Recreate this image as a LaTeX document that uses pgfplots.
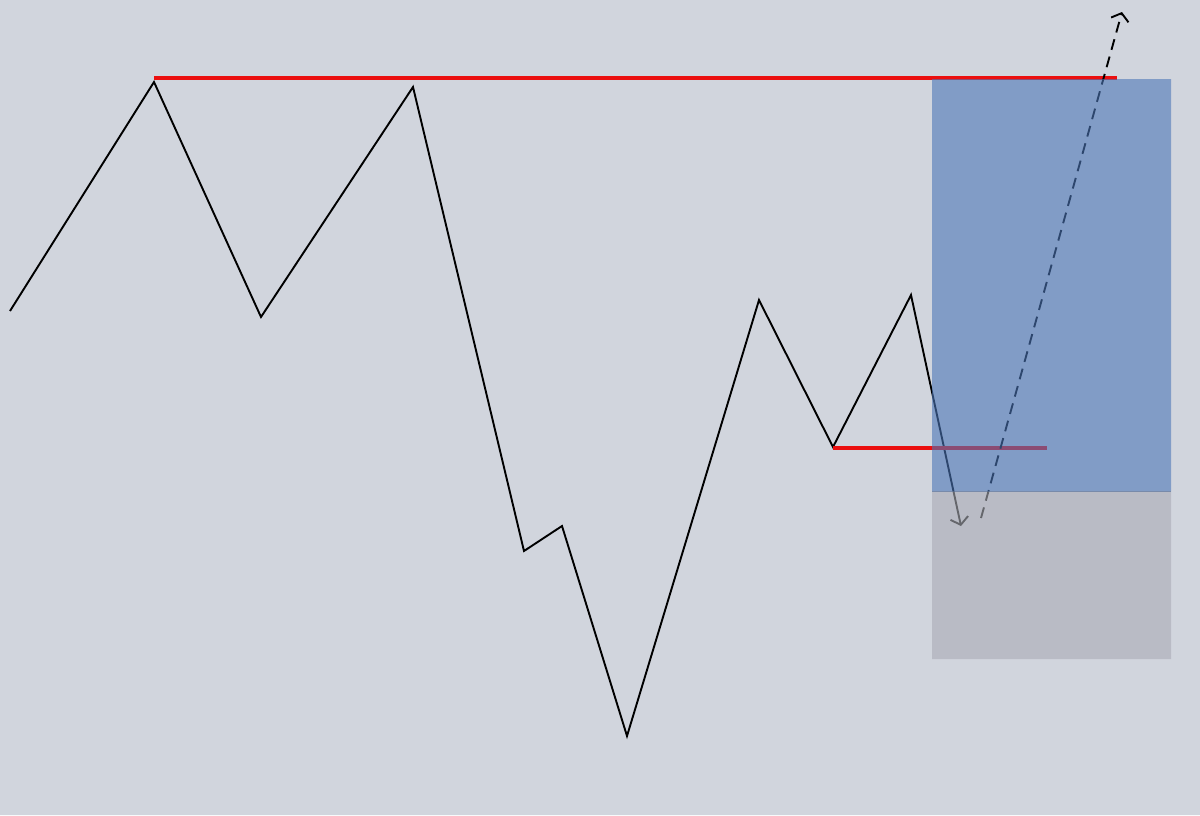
\documentclass[border=0pt]{standalone}
\usepackage{pgfplots}
\pgfplotsset{compat=1.18}
\usetikzlibrary{arrows.meta}
\definecolor{bgc}{RGB}{209,213,221}
\definecolor{boxblue}{RGB}{76,118,183}
\definecolor{boxgray}{RGB}{169,171,181}
\definecolor{lvlred}{RGB}{235,15,15}
\begin{document}
\begin{tikzpicture}
\begin{axis}[
    width=600pt, height=407.5pt,
    scale only axis,
    xmin=0, xmax=1200, ymin=0, ymax=815,
    y dir=reverse,
    axis lines=none, ticks=none,
    clip=false,
]
% background
\addplot[fill=bgc, draw=none] coordinates {(0,0) (1200,0) (1200,815) (0,815) (0,0)};
% price path
\addplot[black, line width=0.95pt, -{Straight Barb[length=3.5pt,width=9pt]}] coordinates {
    (10,311) (154,82) (261,317) (413,87) (524,551) (562,526)
    (627,736) (759,300) (833,447) (911,295) (961,526)};
% levels
\addplot[lvlred, line width=1.8pt] coordinates {(154,78) (1117,78)};
\addplot[lvlred, line width=1.8pt] coordinates {(833,448) (1047,448)};
% projected move
\addplot[black, line width=0.95pt, dash pattern=on 5.5pt off 3.5pt, -{Straight Barb[length=3.5pt,width=9pt]}] coordinates {(981,518) (1122,12)};
% target / stop boxes
\addplot[fill=boxblue, fill opacity=0.6, draw=none] coordinates {(932,79) (1171,79) (1171,491) (932,491) (932,79)};
\addplot[fill=boxgray, fill opacity=0.6, draw=none] coordinates {(932,491) (1171,491) (1171,659) (932,659) (932,491)};
\addplot[boxblue!80!black, opacity=0.5, line width=0.4pt] coordinates {(932,491) (1171,491)};
\end{axis}
\end{tikzpicture}
\end{document}
